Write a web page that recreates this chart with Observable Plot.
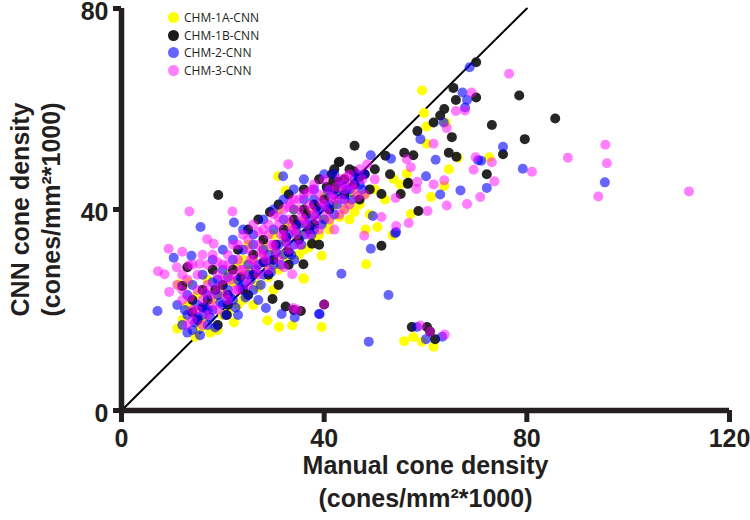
<!DOCTYPE html>
<html>
<head>
<meta charset="utf-8">
<script src="https://cdn.jsdelivr.net/npm/d3@7"></script>
<script src="https://cdn.jsdelivr.net/npm/@observablehq/plot@0.6"></script>
<style>
  body { margin: 0; background: #fff; }
  #wrap { position: relative; width: 750px; height: 520px; }
  #legend { position: absolute; left: 168px; top: 9px; font-family: "Open Sans", sans-serif; font-size: 12px; color: #231f20; }
  #legend .row { display: flex; align-items: center; height: 17.5px; }
  #legend .sw { width: 11px; height: 11px; border-radius: 50%; margin-right: 5px; }
</style>
</head>
<body>
<div id="wrap"></div>
<script>
const seriesNames = ["CHM-1A-CNN", "CHM-1B-CNN", "CHM-2-CNN", "CHM-3-CNN"];
const seriesColors = ["#ffff00", "#1a1a1a", "#0000ff", "#ff00ff"];
const legendColors = ["#ffff00", "#1a1a1a", "#6666ff", "#ff80ff"];
const xTicks = [0, 40, 80, 120];
const yTicks = [0, 40, 80];
const xDomain = [0, 120];
const yDomain = [0, 80];
const identity = [0, 80];

const chm1a = [[59.3,63.7],[59.7,59.2],[64,57.3],[60.2,56.5],[60.2,53.1],[66.4,50.3],[72.6,50.4],[64.6,48],[56.3,47.1],[63.7,44.7],[61.1,42.5],[57.1,39.1],[50.5,36.5],[53.5,34.9],[48.2,36],[48.3,29.1],[39.5,30.8],[36,26.2],[39.5,16.6],[55.8,13.8],[57.6,14.6],[59.3,13.7],[61.6,12.7],[32.4,43.8],[22.9,28.9],[28.8,17.9],[31.1,16.6],[33.7,16.9],[22.2,17.5],[11.3,25.1],[13.2,25.5],[11,16.3],[14.6,14.7],[30.9,46.6],[53.7,46.1],[35.9,26.3],
[14,20],[16,18],[18,22],[20,24],[24,27],[26,30],[28,33],[30,35],[33,37],[35,35],[37,39],[40,38],[42,41],[44,40],[46,43],[38,34],[27,25],[23,21],[20,19],[17,26],[15,23],[25,33],[29,29],[32,31],[36,32],[41,36],[45,38],[47,41],[50,44],[52,42],[55,45],[49,39],[34,40],[31,40],[24,30],[21,27],[13,21],[12,18],[43,44],[46,39.5],[19,16],[26,21],[30,24],
[15.5,16.5],[17.5,15.5],[21,19.5],[24,22],[27,24.5],[29,26.5],[31,28],[33,30],[35,31],[37,32.5],[39,35],[41,37.5],[43,38.5],[45,41],[48,43],[19,23],[22,25.5],[25,28],[28,31.5],[30,32],[32,34],[34,36],[36,37.5],[38,40],[40,42.5],[44,46]];

const chm1b = [[70,69.3],[78.5,62.7],[65.5,64.2],[70,62.3],[66,61.8],[63.7,60],[62.9,58.7],[61.6,57.3],[58.4,55.6],[73.1,56.8],[85.6,58.1],[65.2,54.4],[79.6,54],[75.3,51],[55.8,51.3],[57.6,50.8],[64.6,51.3],[66.1,50.5],[72.1,47],[56.5,45.1],[55.1,43.1],[46,52.7],[43,49.5],[52.1,50.7],[42.9,49.4],[45.8,47.6],[41.8,45.6],[51.3,43.1],[58.6,39.7],[56.6,45.3],[51.3,32.8],[57.3,16.6],[60.3,16.6],[61.9,14.2],[60.9,15.7],[40,21.1],[19.1,42.9],[29.8,22.2],[32.4,20.7],[35.9,29.1],[37.6,33.2],[29.3,39.5],[35.4,19.8],[20.8,19],[13,28.5],[12,24.8],[34,20],
[15,18],[17,22],[20,25],[22,28],[24,24],[26,31],[28,34],[30,30],[32,36],[34,38],[36,40],[38,37],[40,42],[42,44],[44,46],[46,45],[48,47],[50,48],[25,36],[27,38],[23,32],[31,41],[33,43],[36,44],[39,46],[42,48],[44,43],[47,42],[38,41],[35,34],[18,28],[16,24],[14,22],[21,21],[19,17],[29,27],[31,25],[33,29],[39,33],[41,40],[53,47],[49,44],
[16,20.5],[18.5,24],[21,23],[23.5,26.5],[26,27],[28,29.5],[30.5,33],[32.5,34.5],[34.5,37],[36.5,39],[38.5,40.5],[40.5,44.5],[43,45.5],[45,48],[47,46.5],[37,36],[33,31.5],[25,23],[14,19.5],[41.5,47]];

const chm2 = [[68.7,68.3],[67.3,63.3],[68.2,61.8],[67.8,60.3],[63.6,57.3],[59,54],[62,49.9],[70.4,49.8],[75.3,52.5],[79.2,48.1],[60.1,46.6],[72.1,44.3],[66.9,43.8],[62.9,43],[71,49.7],[95.4,45.4],[53.2,50.1],[49.2,50.8],[49.6,38.7],[54.2,35.5],[49.2,32.2],[43.4,27.2],[52.7,23],[39.1,19.2],[48.8,13.7],[58.3,16.6],[63.3,14.7],[60.1,14.2],[15.6,36.5],[10.3,30.4],[7.1,19.8],[28.5,20.4],[31.6,19.2],[34.2,18.5],[39,19.2],[31.9,46.6],[40.7,43.8],[34.1,30],[22.2,37.4],[13.8,30.8],[54,35.3],
[12,17],[13,19],[14,16],[15,21],[16,19],[17,17],[18,20],[19,23],[20,21],[21,24],[22,22],[23,26],[24,25],[25,27],[26,24],[27,29],[28,27],[29,31],[30,29],[31,33],[32,31],[33,35],[34,33],[35,37],[36,35],[37,38],[38,36],[39,40],[40,38],[41,41],[42,39],[43,43],[44,42],[45,44],[46,46],[47,45],[48,47],[14,25],[16,27],[18,30],[20,32],[22,34],[24,36],[26,33],[28,38],[30,40],[32,42],[34,44],[36,46],[38,44],[40,47],[42,47],[19,26],[25,29],[17,23],[11,21],[13,23],[23,19],[27,22],
[13,15.5],[14.5,17.5],[15.5,15],[16.5,20.5],[17.5,18.5],[18.5,16.5],[19.5,21.5],[20.5,19],[21.5,22.5],[22.5,20.5],[23.5,24.5],[24.5,22.5],[25.5,26],[26.5,28],[27.5,25],[28.5,29.5],[29.5,27.5],[30.5,31.5],[31.5,29],[32.5,33.5],[33.5,31],[34.5,35.5],[35.5,33],[36.5,37],[37.5,35],[38.5,39],[39.5,37],[40.5,40.5],[41.5,43],[42.5,41],[43.5,45],[44.5,44],[45.5,42],[46.5,47],[47.5,44],[20,28],[22,30],[24,32],[26,35],[28,32],[30,36],[32,38],[34,40],[36,42],[38,42],[17,20],[15,18.5],[12.5,20],[18,25.5],[21,26.5]];

const chm3 = [[69.1,63.3],[76.5,67],[66,59.6],[67.8,59.7],[64.2,56.2],[61.6,53.1],[69.9,50.4],[73.1,49.4],[57.1,48.4],[56.3,50],[69.5,47.9],[81,47.5],[73.6,45.6],[63.7,45.8],[61.6,45],[58.4,45.5],[58.2,44.1],[70.8,42.5],[68.2,41.1],[64.2,40.8],[54.1,42.3],[88.1,50.3],[95.5,52.9],[95.8,49.2],[94.1,42.6],[112,43.6],[60.4,39.7],[56.7,37.3],[51.3,38.5],[47.9,34.8],[59,16.9],[63.8,15.1],[60.9,15.7],[13.4,39.6],[21.9,39.6],[16.9,34.1],[18.2,33.2],[9.3,32.2],[12,31.6],[7.2,27.7],[8.5,27.1],[13.3,28.9],[33.9,20.4],[34.7,20],[40,21.1],[32.9,49],[37.7,44],[33.3,41.3],[33.7,27.1],[32.1,28.5],[15.4,29.2],[10.9,28.5],[9.4,23.6],[54.2,36.7],[44,44],
[12,22],[13,26],[14,20],[15,24],[16,22],[17,25],[18,23],[19,27],[20,26],[21,29],[22,27],[23,30],[24,28],[25,32],[26,30],[27,33],[28,31],[29,35],[30,33],[31,37],[32,35],[33,38],[34,36],[35,40],[36,38],[37,41],[38,39],[39,43],[40,41],[41,44],[42,42],[43,46],[44,45],[45,47],[46,44],[47,48],[48,43],[18,31],[20,29],[22,33],[24,35],[26,37],[28,36],[30,39],[32,40],[34,42],[36,43],[38,45],[40,46],[14,18],[16,17],[19,20],[21,22],[23,24],[25,25],[27,27],[29,28],[31,30],[33,32],[35,33],[37,35],[39,36],[41,38],[43,39],[45,41],[12,24],[15,27],[17,29],[42,36],[44,40],
[13.5,22.5],[15,20],[16.5,23.5],[18,21],[19,24.5],[20.5,23],[21.5,26],[22.5,24],[23.5,28],[24.5,26.5],[25.5,30],[26.5,28.5],[27.5,31.5],[28.5,30],[29.5,33],[30.5,31.5],[31.5,35],[32.5,33.5],[33.5,36.5],[34.5,35],[35.5,38.5],[36.5,37],[37.5,40],[38.5,38],[39.5,41.5],[40.5,39.5],[41.5,42.5],[42.5,44.5],[43.5,42],[44.5,46.5],[45.5,45],[46.5,42.5],[47.5,46],[19,29.5],[21,31],[23,33],[25,34],[27,35.5],[29,37],[31,38.5],[33,40.5],[35,42],[37,43.5],[12,27],[14,29],[16,31],[11,25],[13,17],[17,19],[48.5,49],[50,46]];

const series = [chm1a, chm1b, chm2, chm3];
const opacities = [1, 0.95, 0.6, 0.5];
const ink = "#231f20";
const font = "Liberation Sans, Arial, sans-serif";

const chart = Plot.plot({
  width: 750,
  height: 520,
  marginLeft: 121,
  marginRight: 21,
  marginTop: 8,
  marginBottom: 110,
  x: { domain: xDomain },
  y: { domain: yDomain },
  style: { color: ink, background: "#fff", overflow: "visible" },
  marks: [
    Plot.line(identity, { x: d => d, y: d => d, stroke: "#000", strokeWidth: 2 }),
    ...series.map((s, i) => Plot.dot(s, { x: d => d[0], y: d => d[1], r: 5, fill: seriesColors[i], fillOpacity: opacities[i], stroke: "none" })),
    Plot.ruleX([xDomain[0]], { y1: yDomain[0], y2: yDomain[1], stroke: ink, strokeWidth: 5.5 }),
    Plot.ruleY([yDomain[0]], { x1: xDomain[0], x2: xDomain[1], stroke: ink, strokeWidth: 5.5 }),
    Plot.axisX({ ticks: xTicks, tickSize: 12, strokeWidth: 5, tickFormat: () => "", label: null }),
    Plot.axisY({ ticks: yTicks, tickSize: 8, strokeWidth: 5, tickFormat: () => "", label: null }),
    Plot.text(xTicks, { x: d => d, frameAnchor: "bottom", lineAnchor: "top", dy: 19, fontSize: 25, fontWeight: "bold", fontFamily: font, fill: ink }),
    Plot.text(yTicks, { y: d => d, frameAnchor: "left", textAnchor: "end", dx: -13, dy: 3, fontSize: 25, fontWeight: "bold", fontFamily: font, fill: ink }),
    Plot.text(["Manual cone density"], { frameAnchor: "bottom", dy: 63, fontSize: 25, fontWeight: "bold", fontFamily: font, fill: ink }),
    Plot.text(["(cones/mm²*1000)"], { frameAnchor: "bottom", dy: 96, fontSize: 25, fontWeight: "bold", fontFamily: font, fill: ink }),
    Plot.text(["CNN cone density"], { frameAnchor: "left", textAnchor: "middle", dx: -101, rotate: -90, fontSize: 25, fontWeight: "bold", fontFamily: font, fill: ink }),
    Plot.text(["(cones/mm²*1000)"], { frameAnchor: "left", textAnchor: "middle", dx: -70, rotate: -90, fontSize: 25, fontWeight: "bold", fontFamily: font, fill: ink })
  ]
});

const wrap = document.getElementById("wrap");
wrap.appendChild(chart);
const legend = document.createElement("div");
legend.id = "legend";
seriesNames.forEach((name, i) => {
  const row = document.createElement("div");
  row.className = "row";
  const sw = document.createElement("span");
  sw.className = "sw";
  sw.style.background = legendColors[i];
  const label = document.createElement("span");
  label.textContent = name;
  row.appendChild(sw);
  row.appendChild(label);
  legend.appendChild(row);
});
wrap.appendChild(legend);
</script>
</body>
</html>
